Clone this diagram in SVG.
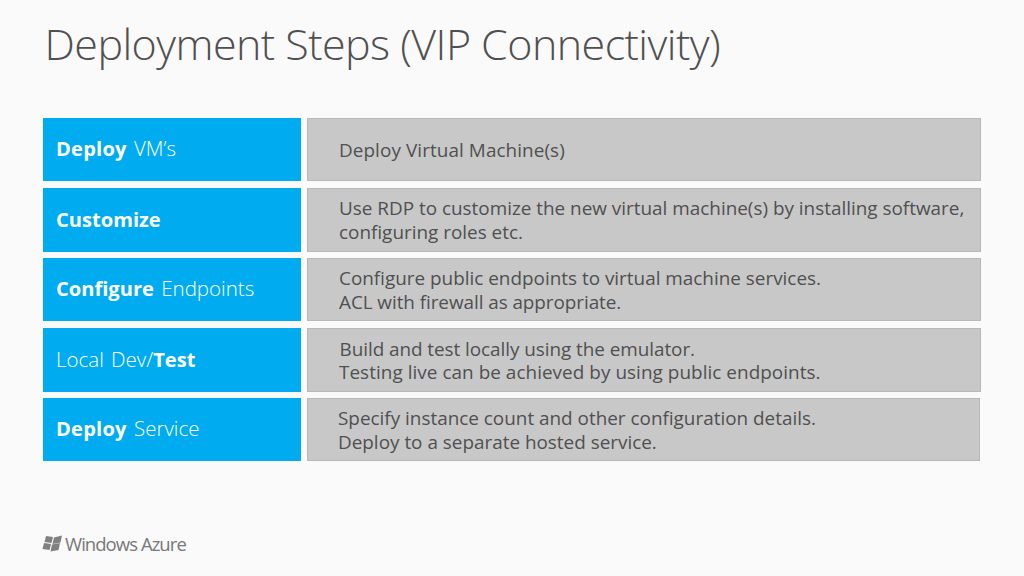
<svg xmlns="http://www.w3.org/2000/svg" width="1024" height="576" viewBox="0 0 1024 576">
<style>
text{font-family:"Open Sans","Noto Sans","Liberation Sans",sans-serif}
.h{fill:#00abf0}
.d{fill:#c8c8c8;stroke:#b8b8b8;stroke-width:1}
.l{fill:#fff;font-size:20.500px;font-weight:300;word-spacing:2px}
.l tspan{font-weight:700;font-size:20.100px}
.t{fill:#505050;font-size:18.900px}
</style>
<rect width="1024" height="576" fill="#fafafa"/>
<text x="44.500" y="59.500" font-size="43" fill="#505050" letter-spacing="-0.55" style="font-weight:300">Deployment Steps (VIP Connectivity)</text>
<g id="row1"><rect class="h" x="43" y="118" width="258" height="63"/><text class="l" x="56" y="156"><tspan letter-spacing="0.2">Deploy</tspan> VM’s</text><rect class="d" x="307.500" y="118.500" width="673" height="62"/><text class="t" x="339" y="157" letter-spacing="0.08">Deploy Virtual Machine(s)</text></g>
<g id="row2"><rect class="h" x="43" y="188" width="258" height="64"/><text class="l" x="56" y="227"><tspan>Customize</tspan></text><rect class="d" x="307.500" y="188.500" width="673" height="63"/><text class="t" x="339" y="215">Use RDP to customize the new virtual machine(s) by installing software,</text><text class="t" x="339" y="239">configuring roles etc.</text></g>
<g id="row3"><rect class="h" x="43" y="258" width="258" height="63"/><text class="l" x="56" y="296"><tspan>Configure</tspan> Endpoints</text><rect class="d" x="307.500" y="258.500" width="673" height="62"/><text class="t" x="339" y="285">Configure public endpoints to virtual machine services.</text><text class="t" x="339" y="309" letter-spacing="-0.06">ACL with firewall as appropriate.</text></g>
<g id="row4"><rect class="h" x="43" y="328" width="258" height="64"/><text class="l" x="56" y="367">Local Dev/<tspan>Test</tspan></text><rect class="d" x="307.500" y="328.500" width="673" height="63"/><text class="t" x="339.500" y="355.500" letter-spacing="-0.05">Build and test locally using the emulator.</text><text class="t" x="339" y="379" letter-spacing="0.05">Testing live can be achieved by using public endpoints.</text></g>
<g id="row5"><rect class="h" x="43" y="398" width="258" height="63"/><text class="l" x="56" y="436"><tspan letter-spacing="0.2">Deploy</tspan> Service</text><rect class="d" x="307.500" y="398.500" width="672" height="62"/><text class="t" x="338" y="425">Specify instance count and other configuration details.</text><text class="t" x="338" y="448.500">Deploy to a separate hosted service.</text></g>
<g id="logo"><path d="M46 536l7 1-1.500 6-7-1zM54 537.500l8-2-1.500 7-8 1.500zM44 543l7 1-1.500 6-7-1zM52 544.500l8-1.500-1.500 7-8 1.500z" fill="#808080"/><text x="65" y="551" font-size="18.500" fill="#787878" letter-spacing="-0.95">Windows Azure</text></g>
</svg>
